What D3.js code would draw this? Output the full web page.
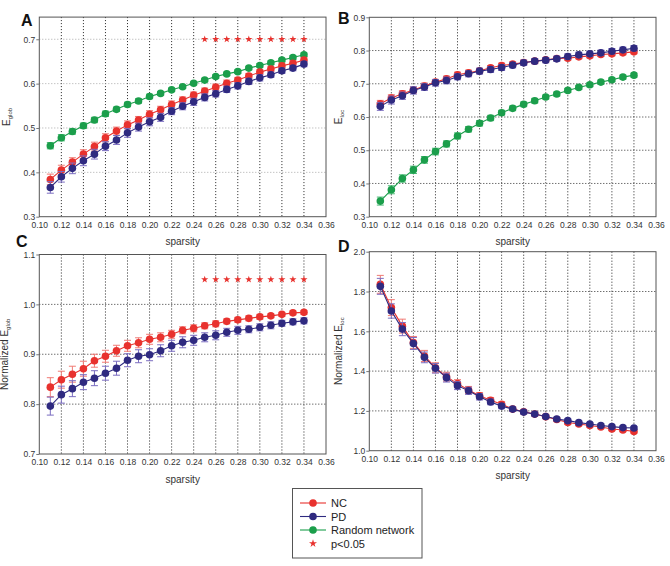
<!DOCTYPE html>
<html>
<head>
<meta charset="utf-8">
<script src="https://cdn.jsdelivr.net/npm/d3@7"></script>
<style>
  html, body { margin: 0; padding: 0; background: #fff; }
  svg { display: block; font-family: "Liberation Sans", Arial, sans-serif; }
</style>
</head>
<body>
<svg id="chart" width="670" height="566"></svg>
<script>
// ---------------- DATA ----------------
const sparsity = [0.11,0.12,0.13,0.14,0.15,0.16,0.17,0.18,0.19,0.20,0.21,0.22,0.23,0.24,0.25,0.26,0.27,0.28,0.29,0.30,0.31,0.32,0.33,0.34];
const xTickValues = [0.10,0.12,0.14,0.16,0.18,0.20,0.22,0.24,0.26,0.28,0.30,0.32,0.34,0.36];
const starSparsity = [0.25,0.26,0.27,0.28,0.29,0.30,0.31,0.32,0.33,0.34];

// Panel A: global efficiency
const aNC   = [0.384,0.405,0.423,0.441,0.458,0.478,0.493,0.507,0.518,0.531,0.541,0.553,0.563,0.574,0.583,0.592,0.601,0.608,0.617,0.626,0.633,0.640,0.646,0.653];
const aPD   = [0.366,0.390,0.409,0.426,0.441,0.459,0.473,0.489,0.502,0.514,0.524,0.538,0.549,0.559,0.569,0.577,0.587,0.595,0.605,0.613,0.620,0.629,0.635,0.644];
const aRand = [0.460,0.478,0.492,0.505,0.518,0.532,0.542,0.553,0.561,0.571,0.578,0.586,0.593,0.601,0.608,0.616,0.622,0.627,0.635,0.641,0.647,0.653,0.659,0.665];
const aNCerr   = [0.012,0.011,0.010,0.010,0.010,0.009,0.009,0.009,0.008,0.008,0.008,0.008,0.007,0.007,0.007,0.007,0.007,0.006,0.006,0.006,0.006,0.006,0.006,0.006];
const aPDerr   = [0.013,0.012,0.012,0.011,0.011,0.010,0.010,0.010,0.009,0.009,0.009,0.008,0.008,0.008,0.008,0.007,0.007,0.007,0.007,0.007,0.006,0.006,0.006,0.006];
const aRandErr = [0.007,0.007,0.006,0.006,0.006,0.006,0.005,0.005,0.005,0.005,0.004,0.004,0.004,0.004,0.004,0.004,0.004,0.004,0.004,0.004,0.004,0.004,0.004,0.004];
const aYTicks = [0.3,0.4,0.5,0.6,0.7];
const aStarY = 0.7;

// Panel B: local efficiency
const bNC   = [0.640,0.657,0.670,0.681,0.693,0.705,0.715,0.727,0.733,0.739,0.748,0.755,0.759,0.764,0.768,0.772,0.776,0.777,0.781,0.784,0.788,0.790,0.793,0.796];
const bPD   = [0.632,0.651,0.664,0.680,0.690,0.703,0.710,0.721,0.730,0.738,0.743,0.749,0.756,0.763,0.768,0.771,0.775,0.782,0.787,0.790,0.793,0.798,0.802,0.807];
const bRand = [0.347,0.381,0.415,0.441,0.471,0.496,0.519,0.543,0.563,0.581,0.597,0.613,0.626,0.638,0.649,0.660,0.669,0.680,0.689,0.697,0.705,0.712,0.720,0.726];
const bNCerr   = [0.010,0.010,0.009,0.009,0.009,0.008,0.008,0.008,0.008,0.007,0.007,0.007,0.007,0.007,0.007,0.006,0.006,0.006,0.006,0.006,0.006,0.006,0.006,0.006];
const bPDerr   = [0.012,0.012,0.011,0.011,0.010,0.010,0.010,0.009,0.009,0.009,0.009,0.009,0.008,0.008,0.008,0.008,0.008,0.008,0.008,0.008,0.008,0.008,0.008,0.008];
const bRandErr = [0.012,0.012,0.011,0.011,0.010,0.010,0.009,0.009,0.008,0.008,0.008,0.007,0.007,0.007,0.007,0.006,0.006,0.006,0.006,0.006,0.006,0.006,0.006,0.006];
const bYTicks = [0.3,0.4,0.5,0.6,0.7,0.8,0.9];

// Panel C: normalized global efficiency
const cNC = [0.834,0.849,0.860,0.871,0.887,0.896,0.907,0.917,0.923,0.930,0.934,0.940,0.948,0.952,0.957,0.961,0.966,0.969,0.972,0.975,0.977,0.980,0.983,0.984];
const cPD = [0.796,0.819,0.831,0.844,0.852,0.862,0.872,0.888,0.896,0.899,0.907,0.917,0.924,0.928,0.934,0.938,0.944,0.948,0.950,0.954,0.958,0.962,0.965,0.967];
const cNCerr = [0.019,0.017,0.016,0.015,0.013,0.012,0.011,0.011,0.010,0.010,0.009,0.008,0.007,0.007,0.006,0.006,0.005,0.005,0.005,0.005,0.004,0.004,0.004,0.004];
const cPDerr = [0.018,0.017,0.016,0.015,0.015,0.014,0.014,0.013,0.013,0.012,0.012,0.011,0.011,0.010,0.009,0.009,0.008,0.008,0.007,0.007,0.007,0.006,0.006,0.006];
const cYTicks = [0.7,0.8,0.9,1.0,1.1];
const cStarY = 1.05;

// Panel D: normalized local efficiency
const dNC = [1.836,1.719,1.626,1.544,1.476,1.417,1.372,1.337,1.305,1.276,1.253,1.233,1.209,1.196,1.184,1.171,1.157,1.142,1.134,1.127,1.119,1.109,1.104,1.097];
const dPD = [1.826,1.702,1.611,1.539,1.469,1.414,1.367,1.327,1.301,1.271,1.245,1.224,1.209,1.194,1.184,1.172,1.159,1.151,1.141,1.134,1.127,1.121,1.116,1.114];
const dNCerr = [0.045,0.040,0.035,0.030,0.028,0.025,0.022,0.020,0.018,0.016,0.014,0.013,0.011,0.010,0.010,0.009,0.009,0.009,0.008,0.008,0.008,0.008,0.008,0.008];
const dPDerr = [0.040,0.036,0.033,0.030,0.027,0.024,0.022,0.020,0.018,0.016,0.014,0.013,0.011,0.010,0.010,0.009,0.009,0.009,0.008,0.008,0.008,0.008,0.008,0.008];
const dYTicks = [1.0,1.2,1.4,1.6,1.8,2.0];

const legendLabels = ["NC","PD","Random network","p<0.05"];

// ---------------- STYLE ----------------
const COL = {
  nc:   {line:"#e8322e", err:"#f07a74"},
  pd:   {line:"#2f2a80", err:"#7a6cc0"},
  rand: {line:"#1b9e4b", err:"#45b872"}
};

const svg = d3.select("#chart");

function panel(cfg) {
  const x = d3.scaleLinear().domain([0.10, 0.36]).range([cfg.left, cfg.right]);
  const y = d3.scaleLinear().domain(cfg.yDomain).range([cfg.bottom, cfg.top]);
  const g = svg.append("g");

  // gridlines
  g.selectAll(".vgrid").data(xTickValues.slice(1, -1)).enter().append("line")
    .attr("x1", d => x(d)).attr("x2", d => x(d))
    .attr("y1", cfg.top).attr("y2", cfg.bottom)
    .attr("stroke", "#222").attr("stroke-width", 1).attr("stroke-dasharray", "1,2");
  g.selectAll(".hgrid").data(cfg.yTicks.filter(t => y(t) > cfg.top + 1 && y(t) < cfg.bottom - 1)).enter().append("line")
    .attr("x1", cfg.left).attr("x2", cfg.right)
    .attr("y1", d => y(d)).attr("y2", d => y(d))
    .attr("stroke", cfg.hgridColor || "#333").attr("stroke-width", 1).attr("stroke-dasharray", "1,2");

  // frame
  g.append("rect").attr("x", cfg.left).attr("y", cfg.top)
    .attr("width", cfg.right - cfg.left).attr("height", cfg.bottom - cfg.top)
    .attr("fill", "none").attr("stroke", "#555").attr("stroke-width", 1);

  // axes via d3 axis generators
  const xAxis = d3.axisBottom(x).tickValues(xTickValues).tickFormat(d3.format(".2f")).tickSize(0).tickPadding(5);
  const xg = g.append("g").attr("transform", `translate(0,${cfg.bottom})`).call(xAxis);
  xg.select(".domain").remove();
  xg.selectAll("text").attr("font-size", "8.5px").attr("fill", "#333").attr("font-family", "Liberation Sans, Arial, sans-serif");

  const yAxis = d3.axisLeft(y).tickValues(cfg.yTicks).tickFormat(d3.format(".1f")).tickSize(3).tickPadding(1);
  const yg = g.append("g").attr("transform", `translate(${cfg.left},0)`).call(yAxis);
  yg.select(".domain").remove();
  yg.selectAll("line").attr("stroke", "#777");
  yg.selectAll("text").attr("font-size", "8.5px").attr("fill", "#333").attr("font-family", "Liberation Sans, Arial, sans-serif");

  // x label
  g.append("text").attr("x", (cfg.left + cfg.right) / 2).attr("y", cfg.bottom + 28.5)
    .attr("text-anchor", "middle").attr("font-size", "10px").attr("fill", "#333").text("sparsity");

  // y label (rotated)
  const yl = g.append("text")
    .attr("transform", `translate(${cfg.ylabelX},${(cfg.top + cfg.bottom) / 2}) rotate(-90)`)
    .attr("text-anchor", "middle").attr("font-size", "10px").attr("fill", "#333");
  yl.append("tspan").text(cfg.ylabelMain);
  yl.append("tspan").attr("font-size", "6px").attr("dy", 2).text(cfg.ylabelSub);

  // panel letter
  g.append("text").attr("x", cfg.letterX).attr("y", cfg.letterY)
    .attr("font-size", "16px").attr("font-weight", "bold").attr("fill", "#111").text(cfg.letter);

  // series
  const line = d3.line().x((d, i) => x(sparsity[i])).y(d => y(d));
  cfg.series.forEach(s => {
    const sg = g.append("g");
    // error bars
    const cap = 3.5;
    s.values.forEach((v, i) => {
      const e = s.err[i];
      const cx = x(sparsity[i]);
      sg.append("line").attr("x1", cx).attr("x2", cx).attr("y1", y(v - e)).attr("y2", y(v + e))
        .attr("stroke", s.col.err).attr("stroke-width", 1);
      [v - e, v + e].forEach(yy => {
        sg.append("line").attr("x1", cx - cap).attr("x2", cx + cap).attr("y1", y(yy)).attr("y2", y(yy))
          .attr("stroke", s.col.err).attr("stroke-width", 1);
      });
    });
    sg.append("path").datum(s.values).attr("d", line)
      .attr("fill", "none").attr("stroke", s.col.line).attr("stroke-width", 1.1);
    sg.selectAll("circle").data(s.values).enter().append("circle")
      .attr("cx", (d, i) => x(sparsity[i])).attr("cy", d => y(d)).attr("r", 3.8)
      .attr("fill", s.col.line);
  });

  // significance stars
  if (cfg.starY !== undefined) {
    const star = d3.symbol().type(d3.symbolStar).size(16);
    g.selectAll(".star").data(starSparsity).enter().append("path")
      .attr("d", star)
      .attr("transform", d => `translate(${x(d)},${y(cfg.starY)})`)
      .attr("fill", "#e8322e");
  }
}

panel({
  letter: "A", letterX: 21, letterY: 26,
  left: 39.3, right: 326, top: 17.1, bottom: 216.7, yDomain: [0.3, 0.75], yTicks: aYTicks,
  ylabelX: 10, ylabelMain: "E", ylabelSub: "glob", hgridColor: "#aaa",
  series: [
    {values: aRand, err: aRandErr, col: COL.rand},
    {values: aNC, err: aNCerr, col: COL.nc},
    {values: aPD, err: aPDerr, col: COL.pd}
  ],
  starY: aStarY
});

panel({
  letter: "B", letterX: 338, letterY: 23.5,
  left: 369.3, right: 656, top: 17.3, bottom: 216.7, yDomain: [0.3, 0.9], yTicks: bYTicks,
  ylabelX: 342, ylabelMain: "E", ylabelSub: "loc",
  series: [
    {values: bRand, err: bRandErr, col: COL.rand},
    {values: bNC, err: bNCerr, col: COL.nc},
    {values: bPD, err: bPDerr, col: COL.pd}
  ]
});

panel({
  letter: "C", letterX: 16, letterY: 247,
  left: 39.3, right: 326, top: 254.5, bottom: 454, yDomain: [0.7, 1.1], yTicks: cYTicks,
  ylabelX: 8, ylabelMain: "Normalized E", ylabelSub: "glob",
  series: [
    {values: cNC, err: cNCerr, col: COL.nc},
    {values: cPD, err: cPDerr, col: COL.pd}
  ],
  starY: cStarY
});

panel({
  letter: "D", letterX: 338, letterY: 252,
  left: 369.3, right: 656, top: 251.7, bottom: 450.7, yDomain: [1.0, 2.0], yTicks: dYTicks,
  ylabelX: 342, ylabelMain: "Normalized E", ylabelSub: "loc",
  series: [
    {values: dNC, err: dNCerr, col: COL.nc},
    {values: dPD, err: dPDerr, col: COL.pd}
  ]
});

// ---------------- LEGEND ----------------
const lg = svg.append("g");
lg.append("rect").attr("x", 292.5).attr("y", 488.5).attr("width", 129.5).attr("height", 69.5)
  .attr("fill", "#fff").attr("stroke", "#555").attr("stroke-width", 1);
const legendCols = [COL.nc.line, COL.pd.line, COL.rand.line, "#e8322e"];
legendLabels.forEach((lab, i) => {
  const yy = 503 + i * 13.5;
  if (i < 3) {
    lg.append("line").attr("x1", 300).attr("x2", 326).attr("y1", yy).attr("y2", yy)
      .attr("stroke", legendCols[i]).attr("stroke-width", 1.1);
    lg.append("circle").attr("cx", 313).attr("cy", yy).attr("r", 3.8).attr("fill", legendCols[i]);
  } else {
    lg.append("path").attr("d", d3.symbol().type(d3.symbolStar).size(20)())
      .attr("transform", `translate(313,${yy})`).attr("fill", legendCols[i]);
  }
  lg.append("text").attr("x", 331).attr("y", yy + 4).attr("font-size", "11px").attr("fill", "#222").text(lab);
});
</script>
</body>
</html>
